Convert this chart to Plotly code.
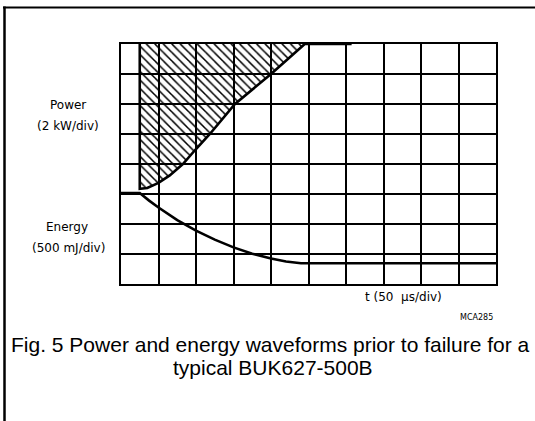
import plotly.graph_objects as go

# Time axis in divisions (50 us/div), traces in vertical divisions
power_t = [0.5, 0.5, 0.7, 1.0, 1.3, 1.65, 2.0, 2.37, 3.04, 4.0, 4.9, 6.15]
power_div = [8.0, 3.17, 3.2, 3.37, 3.62, 4.0, 4.5, 5.0, 6.0, 7.0, 8.0, 8.0]

energy_t = [0.0, 0.5, 0.75, 1.0, 1.5, 2.0, 2.5, 3.0, 3.5, 4.0, 4.4, 4.8, 10.0]
energy_div = [3.03, 3.03, 2.78, 2.55, 2.13, 1.78, 1.48, 1.22, 1.01, 0.85, 0.75, 0.69, 0.69]

x_divs = 10
y_divs = 8

W, H = 535, 421
L, R, T, B = 121, 39, 44, 137
PW, PH = W - L - R, H - T - B


def px(x):
    return (x - L) / PW


def py(y):
    return 1 - (y - T) / PH


fig = go.Figure()

# hatched region above the power trace (up to where it clips at the top)
clip = power_div.index(8.0, 1)
fig.add_trace(go.Scatter(
    x=power_t[:clip + 1], y=power_div[:clip + 1],
    mode="lines", line=dict(width=0, color="rgba(0,0,0,0)"),
    fill="toself", fillcolor="rgba(0,0,0,0)",
    fillpattern=dict(shape="\\", size=6, solidity=0.25,
                     fgcolor="black", bgcolor="rgba(0,0,0,0)", fillmode="replace"),
    hoverinfo="skip", showlegend=False,
))

fig.add_trace(go.Scatter(
    x=power_t, y=power_div, mode="lines",
    line=dict(color="black", width=2.6), showlegend=False,
))
fig.add_trace(go.Scatter(
    x=energy_t, y=energy_div, mode="lines",
    line=dict(color="black", width=2.6),
    showlegend=False,
))

axis_common = dict(
    showgrid=True, gridcolor="black", gridwidth=1.6,
    showline=True, linecolor="black", linewidth=2, mirror=True,
    zeroline=False, showticklabels=False, ticks="", dtick=1, fixedrange=True,
)
fig.update_xaxes(range=[0, x_divs], **axis_common)
fig.update_yaxes(range=[0, y_divs], **axis_common)

label_font = dict(family="DejaVu Sans", size=12, color="black")
notes = [
    ("Power", 68, 105, label_font, "center"),
    ("(2 kW/div)", 68, 126, label_font, "center"),
    ("Energy", 67, 227, label_font, "center"),
    ("(500 mJ/div)", 68, 248, label_font, "center"),
    ("t (50\u00a0 \u00b5s/div)", 403, 297, label_font, "center"),
    ("MCA285", 495, 317, dict(family="DejaVu Sans", size=8, color="black"), "right"),
]
for text, x, y, font, anchor in notes:
    fig.add_annotation(text=text, x=px(x), y=py(y), xref="paper", yref="paper",
                       xanchor=anchor, yanchor="middle", showarrow=False, font=font)

cap_font = dict(family="Liberation Sans, Arial", size=21, color="black")
fig.add_annotation(text="Fig. 5 Power and energy waveforms prior to failure for a",
                   x=px(270), y=py(344), xref="paper", yref="paper",
                   xanchor="center", yanchor="middle", showarrow=False, font=cap_font)
fig.add_annotation(text="typical BUK627-500B",
                   x=px(273), y=py(367), xref="paper", yref="paper",
                   xanchor="center", yanchor="middle", showarrow=False, font=cap_font)

# page frame: top and left rules
fig.add_shape(type="line", xref="paper", yref="paper",
              x0=px(3), x1=px(535), y0=py(7.5), y1=py(7.5),
              line=dict(color="black", width=2.2))
fig.add_shape(type="line", xref="paper", yref="paper",
              x0=px(4.5), x1=px(4.5), y0=py(6.5), y1=py(421),
              line=dict(color="black", width=2.5))

fig.update_layout(
    width=W, height=H,
    margin=dict(l=L, r=R, t=T, b=B),
    paper_bgcolor="white", plot_bgcolor="white",
    showlegend=False,
)

fig.write_html("out.html", config={"displayModeBar": False})
